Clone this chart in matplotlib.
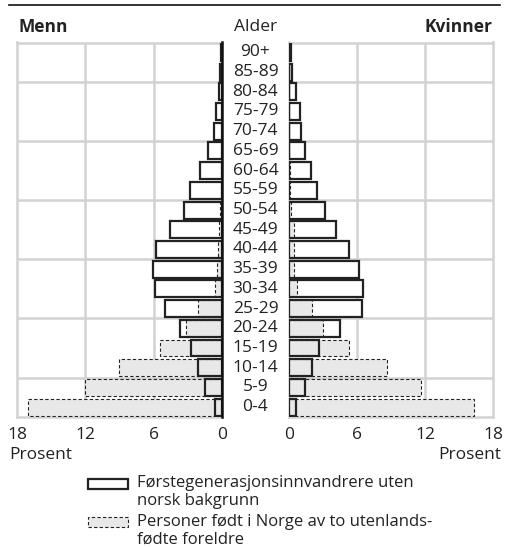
import numpy as np
import matplotlib
matplotlib.use("Agg")
import matplotlib.pyplot as plt
from matplotlib.patches import Rectangle
from matplotlib.transforms import blended_transform_factory

plt.rcParams['font.family'] = ['Open Sans', 'DejaVu Sans']

# Aldersgrupper, fra yngst til eldst
alder = ['0-4', '5-9', '10-14', '15-19', '20-24', '25-29', '30-34', '35-39',
         '40-44', '45-49', '50-54', '55-59', '60-64', '65-69', '70-74',
         '75-79', '80-84', '85-89', '90+']

# Prosent, førstegenerasjonsinnvandrere uten norsk bakgrunn
menn_innv = [0.6, 1.5, 2.1, 2.7, 3.7, 5.0, 5.9, 6.1, 5.8, 4.6, 3.3, 2.8,
             1.9, 1.2, 0.7, 0.5, 0.3, 0.15, 0.08]
kvinner_innv = [0.65, 1.45, 2.05, 2.6, 4.45, 6.45, 6.55, 6.15, 5.25, 4.15,
                3.15, 2.45, 1.95, 1.45, 1.05, 0.95, 0.6, 0.3, 0.2]

# Prosent, personer født i Norge av to utenlandsfødte foreldre
menn_norskf = [17.0, 12.05, 9.05, 5.45, 3.15, 2.1, 0.65, 0.4, 0.35, 0.25,
               0.15, 0.1, 0.05, 0.03, 0.02, 0.0, 0.0, 0.0, 0.0]
kvinner_norskf = [16.25, 11.6, 8.65, 5.3, 2.95, 2.0, 0.7, 0.45, 0.45, 0.45,
                  0.2, 0.1, 0.05, 0.03, 0.02, 0.0, 0.0, 0.0, 0.0]

ticks = [0, 6, 12, 18]

W, H = 506, 547
fig = plt.figure(figsize=(W / 100, H / 100), dpi=100)
ax_m = fig.add_axes([17 / W, 1 - 417 / H, 205 / W, 374.5 / H])
ax_k = fig.add_axes([289 / W, 1 - 417 / H, 204.5 / W, 374.5 / H])

grid_c = '#d2d2d2'
fill_c = '#e8e8e8'
edge_c = '#222222'
y = np.arange(len(alder))
h = 0.86

for ax, innv, norskf in [(ax_m, menn_innv, menn_norskf),
                         (ax_k, kvinner_innv, kvinner_norskf)]:
    ax.barh(y, innv, height=h, color='white', edgecolor='none', zorder=2)
    ax.barh(y, norskf, height=h, color=fill_c, edgecolor=edge_c,
            linestyle=(0, (3, 2)), linewidth=0.8, zorder=3)
    ax.barh(y, innv, height=h, fill=False, edgecolor=edge_c,
            linewidth=1.6, zorder=4)
    ax.set_ylim(-0.5, len(alder) - 0.5)
    ax.set_yticks([])
    ax.set_xticks(ticks)
    ax.set_xticklabels([str(t) for t in ticks])
    ax.tick_params(axis='x', length=0, pad=7, labelsize=12.5, colors='#222222')
    for yy in [1.5, 4.5, 7.5, 10.5, 13.5, 16.5]:
        ax.axhline(yy, color=grid_c, linewidth=1.8, zorder=1)
    for xx in [6, 12]:
        ax.axvline(xx, color=grid_c, linewidth=1.8, zorder=1)
    for s in ax.spines.values():
        s.set_color(grid_c)
        s.set_linewidth(1.8)

ax_m.set_xlim(18, 0)
ax_k.set_xlim(0, 18)
ax_m.spines['right'].set_color('#111111')
ax_m.spines['right'].set_linewidth(1.8)
ax_m.spines['right'].set_zorder(5)

# aldersetiketter midt mellom panelene
tr = blended_transform_factory(fig.transFigure, ax_m.transData)
for i, a in enumerate(alder):
    ax_m.text(255.5 / W, i, a, transform=tr, ha='center', va='center',
              fontsize=12.5, color='#222222', clip_on=False)

fig.text(18 / W, 1 - 27 / H, 'Menn', fontsize=12.5, fontweight='bold',
         ha='left', va='center', color='#222222')
fig.text(493 / W, 1 - 27 / H, 'Kvinner', fontsize=12.5, fontweight='bold',
         ha='right', va='center', color='#222222')
fig.text(255.5 / W, 1 - 27 / H, 'Alder', fontsize=12.5,
         ha='center', va='center', color='#222222')
fig.text(9 / W, 1 - 455 / H, 'Prosent', fontsize=12.5,
         ha='left', va='center', color='#222222')
fig.text(501 / W, 1 - 455 / H, 'Prosent', fontsize=12.5,
         ha='right', va='center', color='#222222')

# linje øverst
fig.add_artist(plt.Line2D([9 / W, 500 / W], [1 - 5 / H, 1 - 5 / H],
                          color='#111111', linewidth=1.2))

# forklaring
fig.add_artist(Rectangle((88 / W, 1 - 489 / H), 40 / W, 10 / H,
                         transform=fig.transFigure, facecolor='white',
                         edgecolor=edge_c, linewidth=1.6))
fig.add_artist(Rectangle((88 / W, 1 - 527 / H), 40 / W, 10 / H,
                         transform=fig.transFigure, facecolor=fill_c,
                         edgecolor=edge_c, linewidth=0.8,
                         linestyle=(0, (3, 2))))
fig.text(137 / W, 1 - 475 / H,
         'Førstegenerasjonsinnvandrere uten\nnorsk bakgrunn',
         fontsize=12, ha='left', va='top', color='#222222',
         linespacing=1.15)
fig.text(137 / W, 1 - 514 / H,
         'Personer født i Norge av to utenlands-\nfødte foreldre',
         fontsize=12, ha='left', va='top', color='#222222',
         linespacing=1.15)

fig.savefig('out.png', dpi=100)
